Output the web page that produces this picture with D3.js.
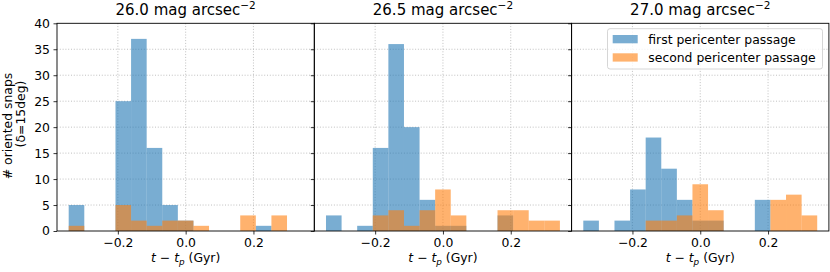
<!DOCTYPE html>
<html>
<head>
<meta charset="utf-8">
<script src="https://cdn.jsdelivr.net/npm/d3@7"></script>
<style>
  body { margin: 0; background: #fff; }
  text { font-family: 'DejaVu Sans', sans-serif; fill: #000; }
</style>
</head>
<body>
<div id="chart"></div>
<script>
// bin edges (Gyr), shared by all panels
const binEdges = [-0.345, -0.299, -0.253, -0.207, -0.161, -0.115, -0.069, -0.023,
  0.023, 0.069, 0.115, 0.161, 0.207, 0.253, 0.299, 0.345];

const panelTitles = ['26.0', '26.5', '27.0'];

// counts per bin
const firstCounts1 = [5, 0, 0, 25, 37, 16, 5, 2, 0, 0, 0, 0, 1, 0, 0];
const secondCounts1 = [1, 0, 0, 5, 2, 1, 2, 2, 1, 0, 0, 3, 0, 3, 0];
const firstCounts2 = [3, 0, 1, 16, 36, 20, 6, 1, 1, 0, 0, 3, 0, 0, 0];
const secondCounts2 = [0, 0, 0, 3, 4, 1, 4, 8, 3, 0, 0, 4, 4, 2, 2];
const firstCounts3 = [2, 0, 2, 8, 18, 12, 6, 2, 2, 0, 0, 6, 0, 0, 0];
const secondCounts3 = [0, 0, 0, 0, 2, 2, 3, 9, 4, 0, 0, 0, 6, 7, 3];

const seriesNames = ['first pericenter passage', 'second pericenter passage'];
const xTicks = [-0.2, 0.0, 0.2];
const yTicks = [0, 5, 10, 15, 20, 25, 30, 35, 40];

const firstCounts = [firstCounts1, firstCounts2, firstCounts3];
const secondCounts = [secondCounts1, secondCounts2, secondCounts3];

let width = 830, height = 272;
let marginLeft = 57, marginTop = 23.3;
let panelWidth = 257.3, panelHeight = 207.7;
let colors = ['#1f77b4', '#ff7f0e'];
let barAlpha = 0.6;
let font = '12.4px';

let svg = d3.select('#chart')
  .append('svg')
  .attr('width', width)
  .attr('height', height);

let xScale = d3.scaleLinear().domain([-0.3795, 0.3795]).range([0, panelWidth]);
let yScale = d3.scaleLinear().domain([0, 40]).range([panelHeight, 0]);

const fmtX = d => d3.format('.1f')(d).replace('-', '\u2212');

for (let p = 0; p < 3; p++) {
  let g = svg.append('g')
    .attr('transform', `translate(${marginLeft + p * panelWidth},${marginTop})`);

  // grid
  g.append('g').selectAll('line.gy').data(yTicks.slice(1, -1)).join('line')
    .attr('x1', 0).attr('x2', panelWidth)
    .attr('y1', d => yScale(d)).attr('y2', d => yScale(d))
    .attr('stroke', '#b0b0b0').attr('stroke-width', 0.8).attr('stroke-dasharray', '1,1.8');
  g.append('g').selectAll('line.gx').data(xTicks).join('line')
    .attr('y1', 0).attr('y2', panelHeight)
    .attr('x1', d => xScale(d)).attr('x2', d => xScale(d))
    .attr('stroke', '#b0b0b0').attr('stroke-width', 0.8).attr('stroke-dasharray', '1,1.8');

  // bars, first then second passage
  [firstCounts[p], secondCounts[p]].forEach((counts, s) => {
    g.append('g').selectAll('rect').data(counts).join('rect')
      .attr('x', (d, i) => xScale(binEdges[i]))
      .attr('width', (d, i) => xScale(binEdges[i + 1]) - xScale(binEdges[i]))
      .attr('y', d => yScale(d))
      .attr('height', d => yScale(0) - yScale(d))
      .attr('fill', colors[s])
      .attr('fill-opacity', barAlpha);
  });

  // axes
  let xAxis = d3.axisBottom(xScale).tickValues(xTicks).tickSize(3.5).tickPadding(3.5).tickFormat(fmtX);
  let yAxis = d3.axisLeft(yScale).tickValues(yTicks).tickSize(3.5).tickPadding(3.5)
    .tickFormat(p === 0 ? d3.format('d') : () => '');

  let gx = g.append('g').attr('transform', `translate(0,${panelHeight})`).call(xAxis);
  let gy = g.append('g').call(yAxis);
  [gx, gy].forEach(a => {
    a.select('.domain').remove();
    a.selectAll('line').attr('stroke', '#000').attr('stroke-width', 0.8);
    a.selectAll('text').style('font-family', "'DejaVu Sans', sans-serif").style('font-size', font).attr('fill', '#000');
  });

  // frame
  g.append('rect')
    .attr('width', panelWidth).attr('height', panelHeight)
    .attr('fill', 'none').attr('stroke', '#000').attr('stroke-width', 0.9);

  // title
  let title = g.append('text')
    .attr('x', panelWidth / 2).attr('y', 14.5 - marginTop)
    .attr('text-anchor', 'middle')
    .style('font-size', '15px');
  title.append('tspan').text(`${panelTitles[p]} mag arcsec`);
  title.append('tspan').attr('dy', -6).style('font-size', '10.5px').text('\u22122');

  // x label
  let xl = g.append('text')
    .attr('x', panelWidth / 2).attr('y', 262 - marginTop)
    .attr('text-anchor', 'middle')
    .style('font-size', font);
  xl.append('tspan').style('font-style', 'italic').text('t');
  xl.append('tspan').text(' \u2212 ');
  xl.append('tspan').style('font-style', 'italic').text('t');
  xl.append('tspan').style('font-style', 'italic').style('font-size', '8.8px').attr('dy', 2.7).text('p');
  xl.append('tspan').attr('dy', -2.7).text(' (Gyr)');
}

// y label, two lines
let yLabelLines = ['# oriented snaps', '(\u03b4=15deg)'];
let yLabelPos = [[12, 126], [24.5, 114]];
yLabelLines.forEach((line, i) => {
  svg.append('text')
    .attr('transform', `translate(${yLabelPos[i][0]},${yLabelPos[i][1]}) rotate(-90)`)
    .attr('text-anchor', 'middle')
    .style('font-size', font)
    .text(line);
});

// legend in last panel
let legend = svg.append('g').attr('transform', 'translate(607.5,28.7)');
legend.append('rect')
  .attr('width', 215).attr('height', 40.3).attr('rx', 2.5)
  .attr('fill', '#fff').attr('fill-opacity', 0.8)
  .attr('stroke', '#ccc').attr('stroke-width', 0.8);
seriesNames.forEach((name, i) => {
  legend.append('rect')
    .attr('x', 5.2).attr('y', 6.3 + i * 18.3)
    .attr('width', 25).attr('height', 8.3)
    .attr('fill', colors[i]).attr('fill-opacity', barAlpha);
  legend.append('text')
    .attr('x', 40.8).attr('y', 15 + i * 18.3)
    .style('font-size', font)
    .text(name);
});
</script>
</body>
</html>
